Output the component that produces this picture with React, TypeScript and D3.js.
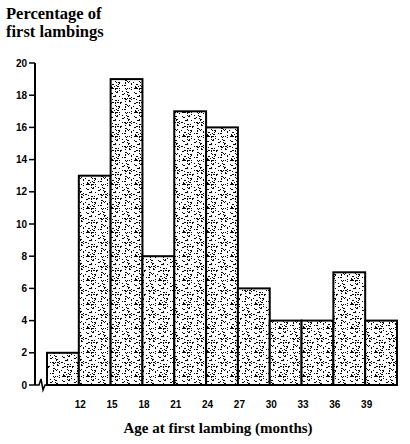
import React from "react";
import * as d3 from "d3";

const binStarts = [9, 12, 15, 18, 21, 24, 27, 30, 33, 36, 39];
const binWidth = 3;
const percentages = [2, 13, 19, 8, 17, 16, 6, 4, 4, 7, 4];
const xTicks = [12, 15, 18, 21, 24, 27, 30, 33, 36, 39];
const yTicks = [0, 2, 4, 6, 8, 10, 12, 14, 16, 18, 20];
const titleLines = ["Percentage of", "first lambings"];
const xTitle = "Age at first lambing (months)";

// deterministic stipple texture dots (texture only, not data)
function makeDots(n: number, size: number) {
  let s = 12345;
  const rnd = () => {
    s = (s * 1103515245 + 12345) % 2147483648;
    return s / 2147483648;
  };
  const dots: [number, number, number][] = [];
  for (let i = 0; i < n; i++)
    dots.push([Math.floor(rnd() * size), Math.floor(rnd() * size), rnd() < 0.25 ? 2 : 1]);
  return dots;
}
const tile = 24;
const dots = makeDots(95, tile);

export default function App() {
  const W = 410, H = 444;
  const x = d3.scaleLinear().domain([9, 42]).range([47, 397]);
  const y = d3.scaleLinear().domain([0, 20]).range([385, 63]);
  const axisX = 35;
  const base = y(0);
  const tickFont = "'Liberation Sans', Arial, sans-serif";
  const serif = "'Liberation Serif', 'Times New Roman', serif";
  return (
    <svg width={W} height={H} style={{ position: "absolute", left: 0, top: 0, background: "#fff" }}>
      <defs>
        <pattern id="stip" width={tile} height={tile} patternUnits="userSpaceOnUse">
          <rect width={tile} height={tile} fill="#fff" />
          {dots.map((d, i) => (
            <rect key={i} x={d[0]} y={d[1]} width={d[2]} height={1} fill="#000" />
          ))}
        </pattern>
      </defs>
      {titleLines.map((t, i) => (
        <text key={i} x={6} y={19 + i * 18} fontFamily={serif} fontSize={16.5} fontWeight="bold" fill="#000">
          {t}
        </text>
      ))}
      {/* bars */}
      {binStarts.map((b, i) => (
        <rect
          key={i}
          x={x(b)}
          y={y(percentages[i])}
          width={x(b + binWidth) - x(b)}
          height={base - y(percentages[i])}
          fill="url(#stip)"
          stroke="#000"
          strokeWidth={2}
        />
      ))}
      {/* y axis */}
      <line x1={axisX} x2={axisX} y1={y(20)} y2={base} stroke="#000" strokeWidth={2} />
      {yTicks.map((t) => (
        <g key={t}>
          <line x1={axisX - 6} x2={axisX} y1={y(t)} y2={y(t)} stroke="#000" strokeWidth={1.5} />
          <text
            x={axisX - 8}
            y={y(t)}
            dy="0.35em"
            textAnchor="end"
            fontFamily={tickFont}
            fontWeight="bold"
            fontSize={10}
            fill="#000"
          >
            {t}
          </text>
        </g>
      ))}
      {/* axis break */}
      <path
        d={`M${axisX},${base} L39,${base} L41,${base - 6} L43,${base + 5} L45,${base} L${x(9)},${base}`}
        fill="none"
        stroke="#000"
        strokeWidth={1.5}
      />
      {/* x tick labels */}
      {xTicks.map((t) => (
        <text
          key={t}
          x={x(t) + 1.5}
          y={408}
          textAnchor="middle"
          fontFamily={tickFont}
          fontWeight="bold"
          fontSize={10}
          fill="#000"
        >
          {t}
        </text>
      ))}
      <text x={218} y={433} textAnchor="middle" fontFamily={serif} fontWeight="bold" fontSize={15} fill="#000">
        {xTitle}
      </text>
    </svg>
  );
}
